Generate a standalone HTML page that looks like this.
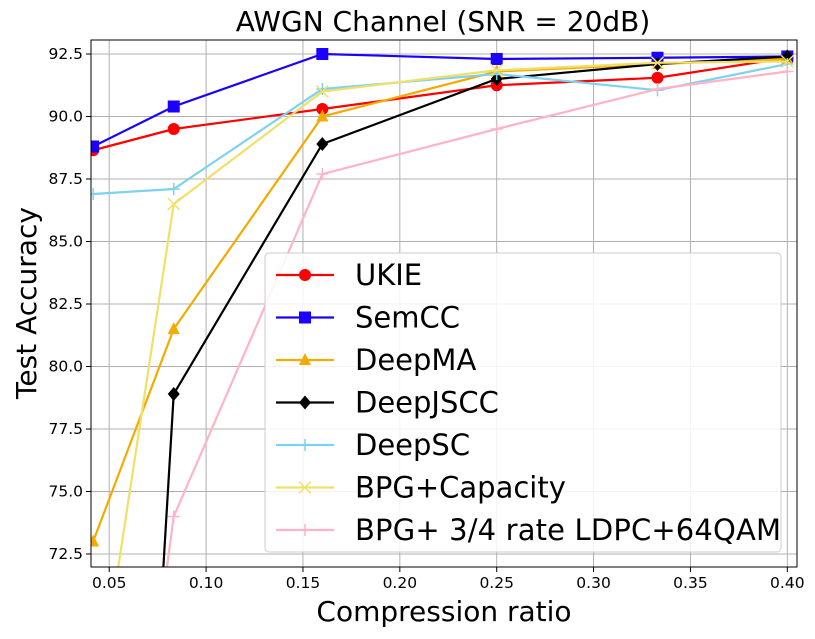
<!DOCTYPE html>
<html><head><meta charset="utf-8"><style>
html,body{margin:0;padding:0;background:#fff;overflow:hidden;width:815px;height:639px;}
svg{display:block;font-family:"DejaVu Sans","Liberation Sans",sans-serif;}
</style></head><body>
<svg id="chart" width="815" height="639"></svg>
<script>
const xValues=[0.0417,0.0833,0.16,0.25,0.333,0.4];
const seriesNames=["UKIE","SemCC","DeepMA","DeepJSCC","DeepSC","BPG+Capacity","BPG+ 3/4 rate LDPC+64QAM"];
const ukie=[88.65,89.5,90.3,91.25,91.55,92.35];
const semcc=[88.8,90.4,92.5,92.3,92.35,92.4];
const deepma=[73.0,81.5,90.0,91.8,92.1,92.3];
const deepjscc=[25,78.9,88.9,91.5,92.1,92.4];
const deepsc=[86.9,87.1,91.1,91.7,91.05,92.1];
const bpgcap=[65.4,86.5,91.0,91.85,92.15,92.2];
const bpgldpc=[50,74.0,87.7,89.5,91.1,91.8];
const xTicks=[0.05,0.10,0.15,0.20,0.25,0.30,0.35,0.40];
const yTicks=[72.5,75.0,77.5,80.0,82.5,85.0,87.5,90.0,92.5];
const colors=["#ff0000","#1a00ff","#f5aa00","#000000","#7dd3ef","#f0e068","#ffb3c6"];
const markers=["circle","square","triangle","diamond","plus","x","plus"];
const allSeries=[ukie,semcc,deepma,deepjscc,deepsc,bpgcap,bpgldpc];
const svg=document.getElementById('chart');
const NS="http://www.w3.org/2000/svg";
const L=91,R=797,T=40,B=567,xmin=0.0406,xmax=0.405,ymin=71.98,ymax=93.06;
const sx=v=>L+(v-xmin)/(xmax-xmin)*(R-L);
const sy=v=>B-(v-ymin)/(ymax-ymin)*(B-T);
function mk(tag,attrs,parent){const e=document.createElementNS(NS,tag);for(const k in attrs)e.setAttribute(k,attrs[k]);(parent||svg).appendChild(e);return e;}
const defs=mk('defs',{});const cp=mk('clipPath',{id:'clip'},defs);mk('rect',{x:L,y:T,width:R-L,height:B-T},cp);
xTicks.forEach(t=>{const x=sx(t);
const g=mk('line',{x1:x,x2:x,y1:T,y2:B,stroke:'#b0b0b0','stroke-width':1});

mk('line',{x1:x,x2:x,y1:B,y2:B+5,stroke:'#000'});
const tx=mk('text',{x:x,y:B+21,'text-anchor':'middle','font-size':15.5});tx.textContent=t.toFixed(2);
});
yTicks.forEach(t=>{const y=sy(t);
const g=mk('line',{x1:L,x2:R,y1:y,y2:y,stroke:'#b0b0b0','stroke-width':1});

mk('line',{x1:L-5,x2:L,y1:y,y2:y,stroke:'#000'});
const tx=mk('text',{x:L-8,y:y+5,'text-anchor':'end','font-size':15.5});tx.textContent=t.toFixed(1);
});
function marker(type,x,y,c,parent,s){s=s||6;
if(type==='circle')return mk('circle',{cx:x,cy:y,r:s,fill:c},parent);
if(type==='square')return mk('rect',{x:x-s,y:y-s,width:2*s,height:2*s,fill:c},parent);
if(type==='triangle')return mk('polygon',{points:`${x},${y-s-1} ${x-s},${y+s-1} ${x+s},${y+s-1}`,fill:c},parent);
if(type==='diamond')return mk('polygon',{points:`${x},${y-s-1} ${x+s},${y} ${x},${y+s+1} ${x-s},${y}`,fill:c},parent);
if(type==='plus')return mk('path',{d:`M${x-s} ${y}H${x+s}M${x} ${y-s}V${y+s}`,stroke:c,'stroke-width':1.5,fill:'none'},parent);
return mk('path',{d:`M${x-s} ${y-s}L${x+s} ${y+s}M${x-s} ${y+s}L${x+s} ${y-s}`,stroke:c,'stroke-width':1.5,fill:'none'},parent);}
const plot=mk('g',{'clip-path':'url(#clip)'});
allSeries.forEach((vals,i)=>{const g=mk('g',{},plot);


mk('polyline',{points:vals.map((v,j)=>sx(xValues[j])+','+sy(v)).join(' '),fill:'none',stroke:colors[i],'stroke-width':2.2},g);
vals.forEach((v,j)=>{const m=marker(markers[i],sx(xValues[j]),sy(v),colors[i],g);
});});
mk('rect',{x:L,y:T,width:R-L,height:B-T,fill:'none',stroke:'#000','stroke-width':1});
const lg=mk('g',{});
mk('rect',{x:265,y:253,width:516,height:299,rx:4,fill:'#fff','fill-opacity':0.85,stroke:'#ccc'},lg);
seriesNames.forEach((n,i)=>{const y=275+i*42.5;const e=mk('g',{},lg);

mk('line',{x1:276,x2:334,y1:y,y2:y,stroke:colors[i],'stroke-width':2.2},e);
marker(markers[i],305,y,colors[i],e);
const t=mk('text',{x:355,y:y+10,'font-size':29,textLength:i===6?426:null},e);
if(i!==6)t.removeAttribute('textLength');
t.textContent=n;});
const title=mk('text',{x:443,y:31,'text-anchor':'middle','font-size':28});title.textContent="AWGN Channel (SNR = 20dB)";

const xl=mk('text',{x:444,y:621,'text-anchor':'middle','font-size':28});xl.textContent="Compression ratio";

const yl=mk('text',{x:0,y:0,'text-anchor':'middle','font-size':28,transform:'translate(36,303) rotate(-90)'});yl.textContent="Test Accuracy";

</script>
</body></html>
